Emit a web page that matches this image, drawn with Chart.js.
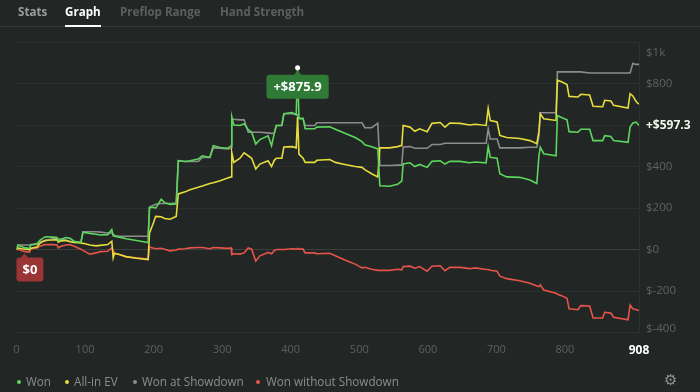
<!DOCTYPE html>
<html><head><meta charset="utf-8">
<script src="https://cdn.jsdelivr.net/npm/chart.js@4.4.1/dist/chart.umd.min.js"></script>
<style>
html,body{margin:0;padding:0;background:#222725;width:700px;height:392px;overflow:hidden;font-family:"Open Sans",sans-serif;}
#wrap{position:absolute;left:0;top:0;width:700px;height:392px;}
#tabs{position:absolute;left:0;top:0;width:700px;height:26px;border-bottom:1px solid #343938;}
.tab{position:absolute;top:4px;font-size:11.6px;font-weight:700;color:#5b605e;white-space:nowrap;}
.tab.on{color:#ffffff;}
.tab.on:after{content:"";position:absolute;left:0;right:0;top:21px;height:2px;background:#ffffff;}
#legend{position:absolute;left:0;top:372px;width:700px;height:18px;font-size:11.7px;color:#8a8f8d;}
.li{position:absolute;top:1px;white-space:nowrap;}
.dot{position:absolute;top:8px;width:4px;height:4px;border-radius:50%;}
#gear{position:absolute;left:664px;top:371px;font-size:15px;color:#8d9290;font-family:"DejaVu Sans",sans-serif;}
</style></head>
<body>
<div id="wrap"><canvas id="c" width="700" height="392"></canvas></div>
<div id="tabs">
  <span class="tab" style="left:18px;color:#9a9f9d">Stats</span>
  <span class="tab on" style="left:65px">Graph</span>
  <span class="tab" style="left:120px">Preflop Range</span>
  <span class="tab" style="left:220px">Hand Strength</span>
</div>
<div id="legend"></div>
<div id="gear">⚙</div>
<script>
const seriesNames = ['Won', 'All-in EV', 'Won at Showdown', 'Won without Showdown'];
const seriesColors = ['#5cd65c', '#e6dc3c', '#8c8c8c', '#e5534b'];
const xTickValues = [0, 100, 200, 300, 400, 500, 600, 700, 800, 908];
const yTickValues = [-400, -200, 0, 200, 400, 600, 800, 1000];

const hands = [0,2,8,13,19,21,30,34,42,52,59,61,65,72,78,84,94,97,107,116,122,133,139,141,143,150,160,175,192,194,199,203,211,216,224,233,236,246,253,265,271,282,287,297,308,313,314,317,326,332,338,343,349,355,367,372,376,379,387,390,402,408,410,412,418,421,435,438,457,465,479,494,504,508,518,527,530,544,556,562,564,574,581,588,599,606,618,625,632,647,661,669,685,688,691,701,705,715,734,749,759,762,764,769,787,789,795,803,806,819,823,836,841,855,858,867,871,892,895,899,904,908];
const won = [0,22,14,8,6,24,26,44,62,60,58,42,50,58,54,40,34,84,78,74,70,72,96,66,64,60,52,44,34,202,204,200,242,226,218,220,428,424,428,436,452,444,500,492,488,500,640,600,598,606,578,565,508,530,548,500,560,598,598,654,660,650,875.9,632,632,582,582,590,592,580,560,540,520,505,495,485,307,305,315,330,412,418,400,410,396,425,428,412,425,425,418,422,418,496,445,440,365,350,348,335,318,450,493,462,452,646,636,625,568,565,580,580,525,525,549,545,525,517,590,610,614,597.3];
const allInEV = [0,8,4,2,0,6,12,30,45,46,48,36,42,44,38,34,32,30,22,18,20,24,40,-40,-18,-24,-34,-42,-48,80,122,160,158,150,146,160,268,278,288,300,306,318,322,332,345,350,468,420,440,466,452,440,388,412,428,400,430,440,440,494,496,490,640,460,440,420,420,430,434,420,410,400,396,385,365,350,490,490,496,502,598,590,570,582,568,608,612,590,610,608,600,604,598,680,622,615,550,540,535,525,510,568,654,630,622,816,808,795,738,735,748,745,690,688,719,716,695,682,751,740,712,700];
const wonAtShowdown = [0,22,22,22,22,22,30,38,42,52,52,52,48,46,40,38,38,86,86,86,84,80,80,74,68,64,64,64,64,205,212,218,222,222,222,224,428,424,424,424,444,444,490,488,485,488,630,628,625,625,565,565,565,565,562,560,562,598,598,654,654,650,650,630,630,598,598,611,611,611,611,611,611,587,587,609,405,405,407,407,494,496,488,488,488,506,506,512,512,512,512,512,512,582,533,533,490,490,490,493,493,545,659,659,659,856,856,856,856,856,856,851,851,851,851,851,851,851,851,897,892,892];
const wonWithoutShowdown = [0,2,-6,-10,-12,4,8,16,24,24,22,8,16,22,24,16,2,-4,-22,-16,-10,-8,8,-4,-20,-24,-36,-40,-46,12,8,4,6,2,-6,-2,2,4,8,10,10,4,10,8,6,8,-24,-20,-22,-16,8,2,-56,-30,-14,-20,-5,0,0,0,4,2,6,2,2,-16,-16,-20,-18,-30,-50,-70,-88,-85,-95,-100,-100,-100,-95,-98,-82,-80,-90,-82,-104,-80,-78,-102,-86,-86,-92,-88,-96,-96,-100,-104,-128,-140,-150,-162,-175,-178,-170,-195,-210,-215,-222,-235,-285,-290,-270,-272,-330,-330,-302,-306,-326,-338,-267,-285,-290,-294];

const seriesValues = [won, allInEV, wonAtShowdown, wonWithoutShowdown];

// HTML legend
const legendPos = [[19,26],[67,74],[135,142],[258,266]];
const lg = document.getElementById('legend');
seriesNames.forEach((n,i)=>{
  const d = document.createElement('span'); d.className='dot';
  d.style.left=(legendPos[i][0]-2)+'px'; d.style.background=seriesColors[i]; lg.appendChild(d);
  const t = document.createElement('span'); t.className='li'; t.style.left=legendPos[i][1]+'px'; t.textContent=n; lg.appendChild(t);
});

function fmtMoney(v){ return (v>=0?'+$':'-$') + Math.abs(v).toFixed(1); }

const badgePlugin = {
  id: 'badges',
  afterDatasetsDraw(chart){
    const {ctx, chartArea, scales} = chart;
    const xs = scales.x, ys = scales.y;
    ctx.save();
    // max badge
    let mi = 0; won.forEach((v,i)=>{ if(v>won[mi]) mi=i; });
    const px = xs.getPixelForValue(hands[mi]), py = ys.getPixelForValue(won[mi]);
    ctx.font = 'bold 13px "Open Sans"';
    const t = fmtMoney(won[mi]);
    const w = ctx.measureText(t).width + 14, h = 24;
    const bx = px - w/2, by = py + 7;
    ctx.fillStyle = '#2f7a36';
    ctx.beginPath(); ctx.roundRect(bx, by, w, h, 3); ctx.fill();
    ctx.beginPath(); ctx.moveTo(px-4, by+0.5); ctx.lineTo(px, by-4); ctx.lineTo(px+4, by+0.5); ctx.closePath(); ctx.fill();
    ctx.fillStyle = '#ffffff'; ctx.textAlign='center'; ctx.textBaseline='middle';
    ctx.fillText(t, px, by + h/2 + 0.5);
    ctx.beginPath(); ctx.arc(px, py, 2.5, 0, Math.PI*2); ctx.fill();
    // start badge
    const sx = xs.getPixelForValue(hands[0]), sy = ys.getPixelForValue(won[0]);
    const st = '$' + won[0];
    const sw = ctx.measureText(st).width + 12;
    const sbx = Math.max(chartArea.left, sx - sw/2), sby = sy + 8;
    ctx.fillStyle = '#9a3535';
    ctx.beginPath(); ctx.roundRect(sbx, sby, sw, h, 3); ctx.fill();
    const tx = Math.max(sbx + 8, sx);
    ctx.beginPath(); ctx.moveTo(tx-4, sby+0.5); ctx.lineTo(tx, sby-4); ctx.lineTo(tx+4, sby+0.5); ctx.closePath(); ctx.fill();
    ctx.fillStyle = '#ffffff';
    ctx.fillText(st, sbx + sw/2, sby + h/2 + 0.5);
    // last value label
    const li = won.length - 1;
    ctx.font = 'bold 12px "Open Sans"'; ctx.fillStyle = '#eef6e8'; ctx.textAlign='left';
    ctx.fillText(fmtMoney(won[li]), chartArea.right + 7, ys.getPixelForValue(won[li]));
    ctx.restore();
  }
};

new Chart(document.getElementById('c'), {
  type: 'line',
  data: {
    datasets: seriesNames.map((n,i)=>({
      label: n,
      data: hands.map((h,k)=>({x:h, y:seriesValues[i][k]})),
      borderColor: seriesColors[i],
      backgroundColor: seriesColors[i],
      borderWidth: 1.6,
      pointRadius: 0,
      tension: 0,
      fill: false
    }))
  },
  options: {
    responsive: false,
    animation: false,
    layout: { padding: { left: 16.5, right: 0, top: 42, bottom: 23 } },
    plugins: { legend: { display: false }, tooltip: { enabled: false } },
    scales: {
      x: {
        type: 'linear', min: 0, max: 908,
        afterBuildTicks: s => { s.ticks = xTickValues.map(v=>({value:v})); },
        grid: { display: false, drawTicks: false },
        border: { display: false },
        ticks: {
          autoSkip: false, maxRotation: 0, padding: 11,
          color: c => c.tick && c.tick.value === 908 ? '#ffffff' : '#5b605e',
          font: c => c.tick && c.tick.value === 908 ? {family:'"Open Sans"', size: 12, weight: 'bold'} : {family:'"Open Sans"', size: 11}
        }
      },
      y: {
        position: 'right', min: -400, max: 1000,
        afterBuildTicks: s => { s.ticks = yTickValues.map(v=>({value:v})); },
        afterFit: s => { s.width = 61; },
        grid: {
          drawTicks: false,
          color: c => c.tick && c.tick.value === 0 ? '#3b403f' : '#2c3130'
        },
        border: { display: true, color: '#2c3130' },
        ticks: {
          autoSkip: false,
          padding: 7,
          color: '#5e6361',
          font: c => {
            const v = c.tick ? c.tick.value : 0;
            if (v === 1000) return {family:'"Open Sans"', size: 11.5, lineHeight: 1.8};
            if (v === -400) return {family:'"Open Sans"', size: 11.5, lineHeight: 0.6};
            return {family:'"Open Sans"', size: 11.5};
          },
          callback: v => {
            if (v === 1000) return ['', '$1k'];
            if (v === 600) return '';
            if (v === -400) return ['$-400', ''];
            return '$' + v;
          }
        }
      }
    }
  },
  plugins: [badgePlugin]
});
</script>
</body></html>
